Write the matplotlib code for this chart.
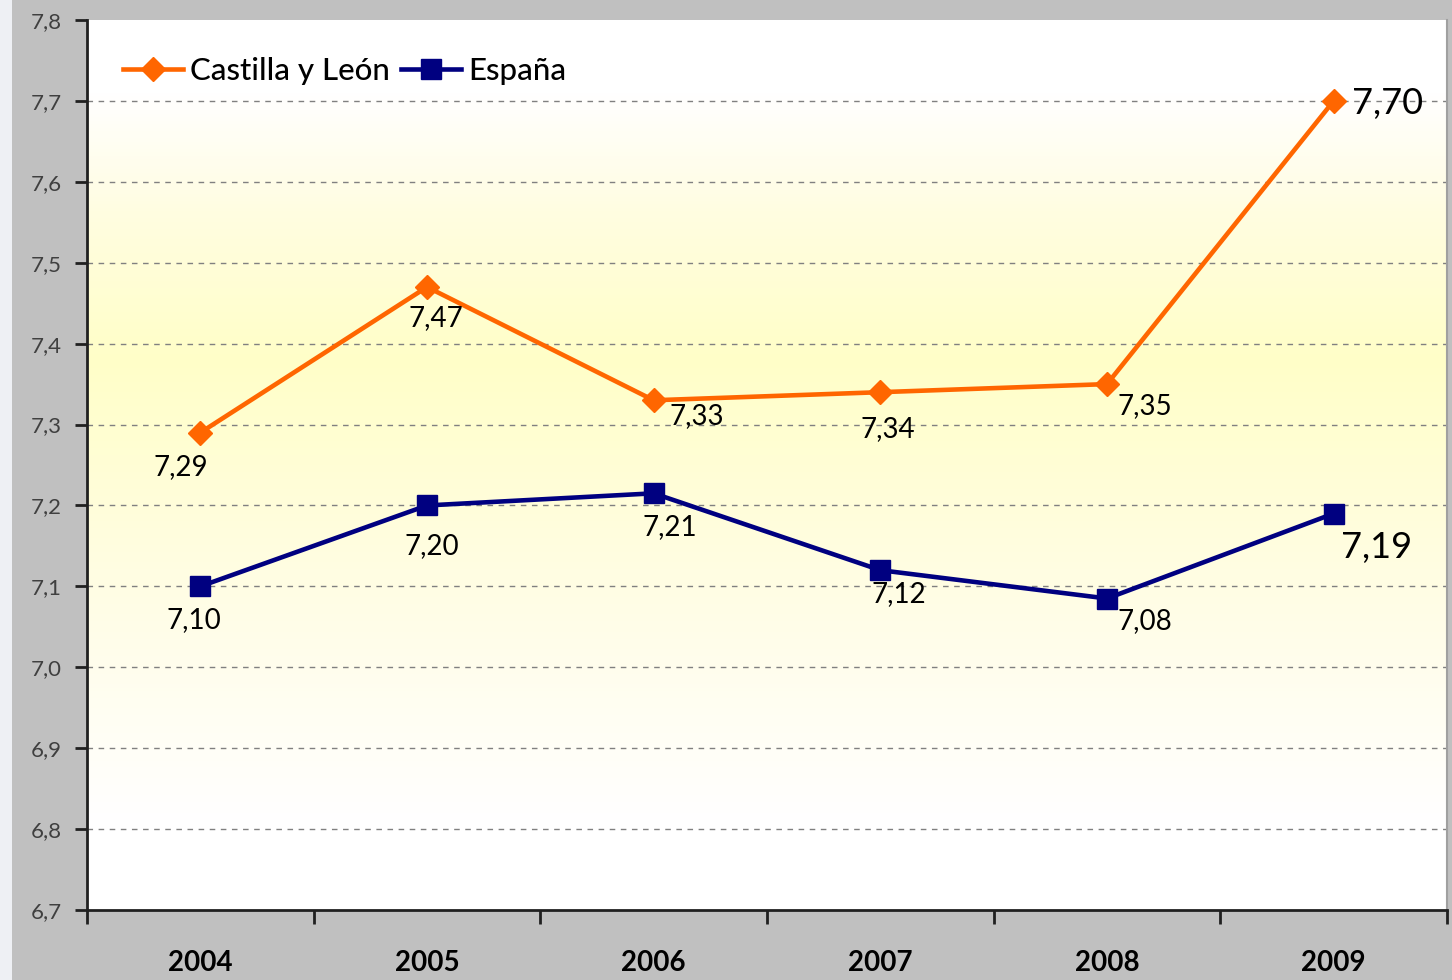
import numpy as np
import matplotlib.pyplot as plt
from matplotlib.colors import LinearSegmentedColormap
from matplotlib.patches import Rectangle

# data
years = ["2004", "2005", "2006", "2007", "2008", "2009"]
castilla = [7.29, 7.47, 7.33, 7.34, 7.35, 7.70]
espana = [7.10, 7.20, 7.215, 7.12, 7.085, 7.19]
castilla_labels = ["7,29", "7,47", "7,33", "7,34", "7,35", "7,70"]
espana_labels = ["7,10", "7,20", "7,21", "7,12", "7,08", "7,19"]
yticks = [6.7, 6.8, 6.9, 7.0, 7.1, 7.2, 7.3, 7.4, 7.5, 7.6, 7.7, 7.8]

# label offsets in pixels (dx, dy)
cas_off = [(-20, -34), (9, -31), (43, -16), (7, -37), (38, -22), (54, -3)]
esp_off = [(-6, -34), (5, -41), (16, -34), (18, -24), (38, -23), (43, -34)]

plt.rcParams['font.family'] = ['Lato', 'DejaVu Sans']

fig = plt.figure(figsize=(14.52, 9.80), dpi=100)
fig.patch.set_facecolor('#c0c0c0')
fig.patches.append(Rectangle((0, 0), 12/1452, 1, transform=fig.transFigure,
                             facecolor='#eef0f4', edgecolor='none'))
ax = fig.add_axes([87/1452, 1 - 910/980, 1360/1452, 890/980])

x = np.arange(len(years))
ax.set_xlim(-0.5, len(years) - 0.5)
ax.set_ylim(6.7, 7.8)

# background gradient
cmap = LinearSegmentedColormap.from_list('bg', [
    (0.0, '#ffffff'), (0.1, '#ffffff'), (0.4, '#fffde0'),
    (0.62, '#ffffc8'), (0.78, '#fffde0'), (0.92, '#ffffff'), (1.0, '#ffffff')])
grad = np.linspace(0, 1, 256).reshape(-1, 1)
ax.imshow(grad, cmap=cmap, aspect='auto', extent=[-0.5, 5.5, 7.8, 6.7],
          origin='upper', zorder=0)

for y in yticks[1:-1]:
    ax.axhline(y, color='#808080', lw=1, ls=(0, (4, 4)), zorder=1)

ax.plot(x, castilla, color='#ff6600', lw=3.3, marker='D', ms=12,
        label='Castilla y León', zorder=3)
ax.plot(x, espana, color='#000080', lw=3.3, marker='s', ms=14,
        label='España', zorder=3)

for i in range(len(years)):
    big = i == len(years) - 1
    ax.annotate(castilla_labels[i], (x[i], castilla[i]), xytext=cas_off[i],
                textcoords='offset pixels', ha='center', va='center',
                fontsize=26 if big else 20, color='black', zorder=4)
    ax.annotate(espana_labels[i], (x[i], espana[i]), xytext=esp_off[i],
                textcoords='offset pixels', ha='center', va='center',
                fontsize=26 if big else 20, color='black', zorder=4)

ax.set_yticks(yticks)
ax.set_yticklabels([f"{v:.1f}".replace('.', ',') for v in yticks],
                   fontsize=16, color='#404040')
ax.set_xticks(np.arange(-0.5, len(years)), minor=False)
ax.set_xticklabels([])
ax.set_xticks(x, minor=True)
ax.set_xticklabels(years, minor=True, fontsize=20, fontweight='bold')
ax.tick_params(axis='x', which='minor', length=0, pad=29)
ax.tick_params(axis='x', which='major', length=10, width=2, color='#202020')
ax.tick_params(axis='y', length=9, width=2, color='#202020', pad=9)

for s in ['left', 'bottom']:
    ax.spines[s].set_linewidth(2)
    ax.spines[s].set_color('#202020')
ax.spines['top'].set_visible(False)
ax.spines['right'].set_color('#a0a0a0')
ax.spines['right'].set_linewidth(1.5)

ax.legend(loc='upper left', bbox_to_anchor=(0.006, 0.99), ncol=2, frameon=False,
          handlelength=1.9, handletextpad=0.25, columnspacing=0.35,
          prop={'size': 22.5, 'weight': 'medium'})

fig.savefig('out.png', dpi=100, facecolor=fig.get_facecolor())
